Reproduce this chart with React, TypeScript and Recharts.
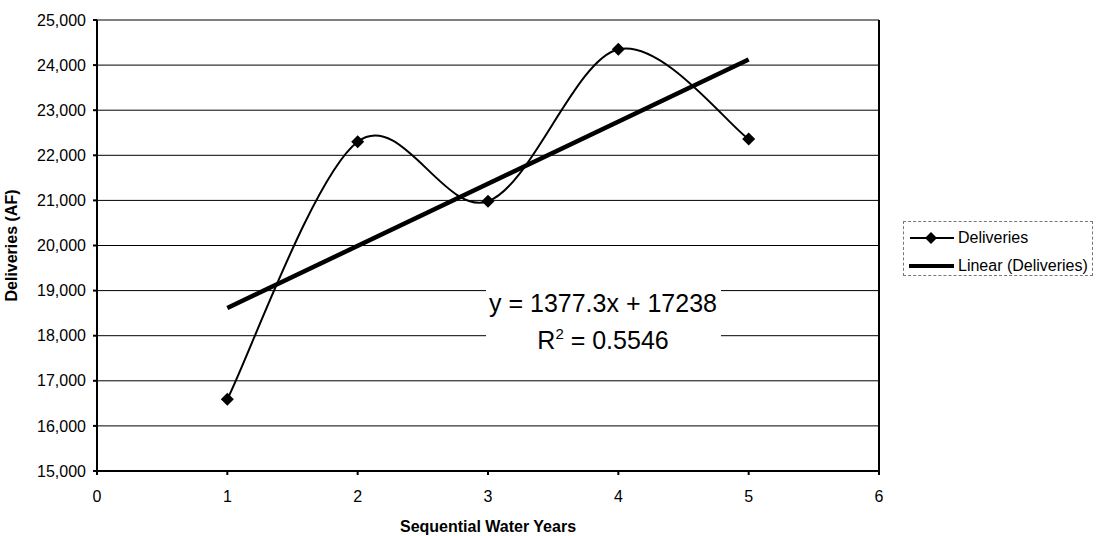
import { CartesianGrid, ComposedChart, Label, Legend, Line, ReferenceLine, XAxis, YAxis } from "recharts";

const xTicks = [0, 1, 2, 3, 4, 5, 6];
const yTicks = [15000, 16000, 17000, 18000, 19000, 20000, 21000, 22000, 23000, 24000, 25000];

const waterYears = [1, 2, 3, 4, 5];
const deliveries = [16590, 22300, 20980, 24350, 22360];

// end points of Excel's linear trendline (y = 1377.3x + 17238)
const trendYears = [1, 5];
const trendValues = [18615, 24125];

const equationLabel = "y = 1377.3x + 17238";
const rSquaredLabel = "0.5546";

const deliveryData = waterYears.map((x, i) => ({ x, y: deliveries[i] }));
const trendData = trendYears.map((x, i) => ({ x, y: trendValues[i] }));

const font = "'Liberation Sans', Arial, sans-serif";

// Excel-style smoothed line: Catmull-Rom through every point
function excelSmooth(context: any) {
  let pts: [number, number][] = [];
  return {
    areaStart() {},
    areaEnd() {},
    lineStart() {
      pts = [];
    },
    lineEnd() {
      if (!pts.length) return;
      context.moveTo(pts[0][0], pts[0][1]);
      for (let i = 0; i < pts.length - 1; i++) {
        const p0 = pts[Math.max(i - 1, 0)];
        const p1 = pts[i];
        const p2 = pts[i + 1];
        const p3 = pts[Math.min(i + 2, pts.length - 1)];
        context.bezierCurveTo(
          p1[0] + (p2[0] - p0[0]) / 6,
          p1[1] + (p2[1] - p0[1]) / 6,
          p2[0] - (p3[0] - p1[0]) / 6,
          p2[1] - (p3[1] - p1[1]) / 6,
          p2[0],
          p2[1]
        );
      }
    },
    point(x: number, y: number) {
      pts.push([x, y]);
    },
  };
}

const Diamond = (props: any) => {
  const { cx, cy, index } = props;
  if (cx == null || cy == null) return null;
  const r = 6.5;
  return (
    <polygon
      key={`d-${index}`}
      points={`${cx},${cy - r} ${cx + r},${cy} ${cx},${cy + r} ${cx - r},${cy}`}
      fill="#000"
    />
  );
};

const renderLegend = () => (
  <div
    style={{
      width: 190,
      height: 55,
      boxSizing: "border-box",
      border: "1px dashed #777",
      background: "#fff",
      fontFamily: font,
      fontSize: 16,
      color: "#000",
      paddingTop: 2,
      paddingLeft: 5,
    }}
  >
    <div style={{ display: "flex", alignItems: "center", height: 28 }}>
      <svg width={46} height={14} style={{ marginRight: 3 }}>
        <line x1={1} y1={7} x2={45} y2={7} stroke="#000" strokeWidth={2} />
        <polygon points="22,1 28,7 22,13 16,7" fill="#000" />
      </svg>
      <span>Deliveries</span>
    </div>
    <div style={{ display: "flex", alignItems: "center", height: 28 }}>
      <svg width={46} height={14} style={{ marginRight: 3 }}>
        <line x1={0} y1={7} x2={45} y2={7} stroke="#000" strokeWidth={4} />
      </svg>
      <span>Linear (Deliveries)</span>
    </div>
  </div>
);

export default function App() {
  return (
    <div style={{ position: "absolute", left: 0, top: 0, background: "#fff" }}>
      <ComposedChart width={1105} height={536} margin={{ top: 20, right: 226, bottom: 0, left: 0 }}>
        <CartesianGrid stroke="#000" strokeWidth={1} vertical={false} />
        <XAxis
          type="number"
          dataKey="x"
          domain={[0, 6]}
          ticks={xTicks}
          allowDataOverflow
          height={65}
          stroke="#000"
          strokeWidth={2}
          tickSize={4}
          tickMargin={16}
          tick={{ fontSize: 16, fill: "#000", fontFamily: font }}
        >
          <Label
            content={(p: any) => (
              <text
                x={p.viewBox.x + p.viewBox.width / 2}
                y={526}
                textAnchor="middle"
                dominantBaseline="central"
                fontFamily={font}
                fontSize={16}
                fontWeight="bold"
                fill="#000"
              >
                Sequential Water Years
              </text>
            )}
          />
        </XAxis>
        <YAxis
          type="number"
          domain={[15000, 25000]}
          ticks={yTicks}
          allowDataOverflow
          width={97}
          stroke="#000"
          strokeWidth={2}
          tickSize={4}
          tickMargin={7}
          tick={{ fontSize: 16, fill: "#000", fontFamily: font }}
          tickFormatter={(v: number) => v.toLocaleString("en-US")}
        >
          <Label
            content={(p: any) => {
              const cy = p.viewBox.y + p.viewBox.height / 2;
              return (
                <text
                  x={11}
                  y={cy}
                  transform={`rotate(-90 11 ${cy})`}
                  textAnchor="middle"
                  dominantBaseline="central"
                  fontFamily={font}
                  fontSize={16}
                  fontWeight="bold"
                  fill="#000"
                >
                  Deliveries (AF)
                </text>
              );
            }}
          />
        </YAxis>
        <ReferenceLine x={6} stroke="#000" strokeWidth={2} />
        <Legend
          layout="horizontal"
          align="center"
          verticalAlign="middle"
          content={renderLegend}
          wrapperStyle={{ left: 903, top: 221, width: 190, height: 55 }}
        />
        <Line
          data={deliveryData}
          dataKey="y"
          name="Deliveries"
          type={excelSmooth as any}
          stroke="#000"
          strokeWidth={2}
          dot={Diamond}
          activeDot={false}
          isAnimationActive={false}
        />
        <Line
          data={trendData}
          dataKey="y"
          name="Linear (Deliveries)"
          type="linear"
          stroke="#000"
          strokeWidth={4.5}
          dot={false}
          activeDot={false}
          isAnimationActive={false}
        />
        <g>
          <rect x={486} y={283} width={235} height={72} fill="#fff" />
          <text x={603} y={312} textAnchor="middle" fontFamily={font} fontSize={25} fill="#000">
            {equationLabel}
          </text>
          <text x={603} y={349} textAnchor="middle" fontFamily={font} fontSize={25} fill="#000">
            R<tspan fontSize={15} dy={-10}>2</tspan>
            <tspan dy={10}> = {rSquaredLabel}</tspan>
          </text>
        </g>
      </ComposedChart>
    </div>
  );
}
